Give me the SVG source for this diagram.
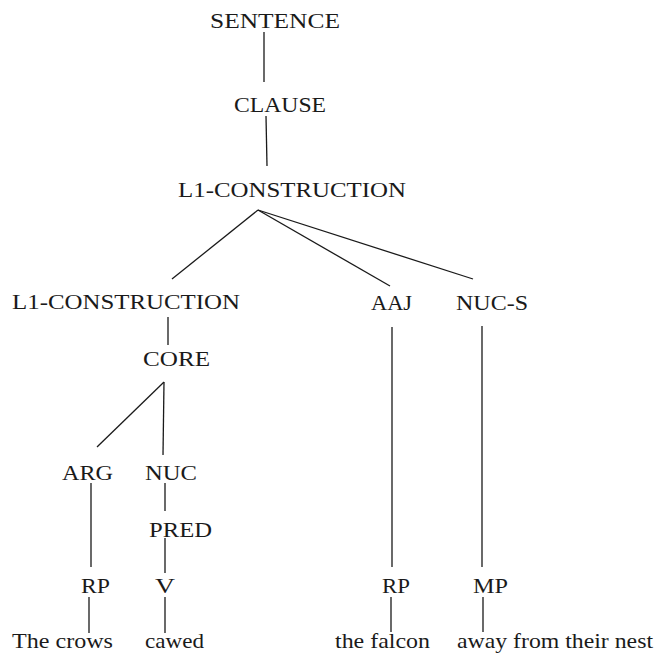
<svg xmlns="http://www.w3.org/2000/svg" width="657" height="654" viewBox="0 0 657 654">
  <style>
    .lbl { font-family: "Liberation Serif", "Times New Roman", serif; font-size: 22px; fill: #1a1a1a; }
    .edge { stroke: #1a1a1a; stroke-width: 1.3; fill: none; stroke-linecap: butt; }
  </style>
  <rect width="657" height="654" fill="#ffffff"/>

  <!-- tree edges -->
  <g id="connectors">
    <line class="edge" x1="264" y1="32" x2="264" y2="82"/>
    <line class="edge" x1="266" y1="116" x2="267" y2="166"/>
    <line class="edge" x1="258" y1="210" x2="172" y2="279"/>
    <line class="edge" x1="258" y1="210" x2="390" y2="286"/>
    <line class="edge" x1="258" y1="210" x2="473" y2="279"/>
    <line class="edge" x1="168" y1="317" x2="168" y2="345"/>
    <line class="edge" x1="164" y1="382" x2="97" y2="447"/>
    <line class="edge" x1="164" y1="382" x2="163" y2="455"/>
    <line class="edge" x1="91" y1="483" x2="91" y2="567"/>
    <line class="edge" x1="165" y1="483" x2="165" y2="511"/>
    <line class="edge" x1="165" y1="538" x2="165" y2="573"/>
    <line class="edge" x1="89" y1="597" x2="89" y2="633"/>
    <line class="edge" x1="165" y1="597" x2="165" y2="633"/>
    <line class="edge" x1="392" y1="327" x2="392" y2="567"/>
    <line class="edge" x1="482" y1="326" x2="482" y2="567"/>
    <line class="edge" x1="391" y1="597" x2="391" y2="632"/>
    <line class="edge" x1="483" y1="597" x2="483" y2="632"/>
  </g>

  <!-- nodes -->
  <g id="n-sentence"><text class="lbl" x="210" y="28" textLength="130" lengthAdjust="spacingAndGlyphs">SENTENCE</text></g>
  <g id="n-clause"><text class="lbl" x="234" y="112" textLength="92" lengthAdjust="spacingAndGlyphs">CLAUSE</text></g>
  <g id="n-l1-top"><text class="lbl" x="178" y="197" textLength="228" lengthAdjust="spacingAndGlyphs">L1-CONSTRUCTION</text></g>
  <g id="n-l1-left"><text class="lbl" x="12" y="309" textLength="228" lengthAdjust="spacingAndGlyphs">L1-CONSTRUCTION</text></g>
  <g id="n-aaj"><text class="lbl" x="371" y="310" textLength="41" lengthAdjust="spacingAndGlyphs">AAJ</text></g>
  <g id="n-nuc-s"><text class="lbl" x="456" y="310" textLength="72" lengthAdjust="spacingAndGlyphs">NUC-S</text></g>
  <g id="n-core"><text class="lbl" x="143" y="366" textLength="67" lengthAdjust="spacingAndGlyphs">CORE</text></g>
  <g id="n-arg"><text class="lbl" x="62" y="480" textLength="51" lengthAdjust="spacingAndGlyphs">ARG</text></g>
  <g id="n-nuc"><text class="lbl" x="145" y="480" textLength="52" lengthAdjust="spacingAndGlyphs">NUC</text></g>
  <g id="n-pred"><text class="lbl" x="149" y="537" textLength="63" lengthAdjust="spacingAndGlyphs">PRED</text></g>
  <g id="n-rp1"><text class="lbl" x="81" y="593" textLength="29" lengthAdjust="spacingAndGlyphs">RP</text></g>
  <g id="n-v"><text class="lbl" x="155" y="593" textLength="20" lengthAdjust="spacingAndGlyphs">V</text></g>
  <g id="n-rp2"><text class="lbl" x="382" y="593" textLength="28" lengthAdjust="spacingAndGlyphs">RP</text></g>
  <g id="n-mp"><text class="lbl" x="473" y="593" textLength="35" lengthAdjust="spacingAndGlyphs">MP</text></g>
  <g id="w-crows"><text class="lbl" x="12" y="648" textLength="101" lengthAdjust="spacingAndGlyphs">The crows</text></g>
  <g id="w-cawed"><text class="lbl" x="145" y="648" textLength="59" lengthAdjust="spacingAndGlyphs">cawed</text></g>
  <g id="w-falcon"><text class="lbl" x="335" y="648" textLength="95" lengthAdjust="spacingAndGlyphs">the falcon</text></g>
  <g id="w-nest"><text class="lbl" x="457" y="648" textLength="196" lengthAdjust="spacingAndGlyphs">away from their nest</text></g>
</svg>
